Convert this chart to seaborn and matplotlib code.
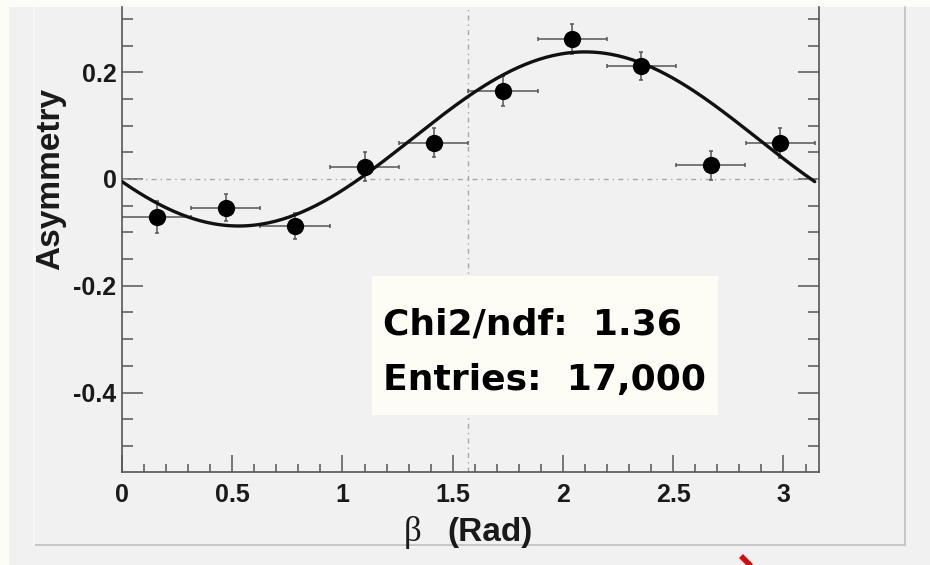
import numpy as np
import matplotlib
matplotlib.use("Agg")
import matplotlib.pyplot as plt
from matplotlib.patches import Rectangle
from matplotlib.lines import Line2D
from matplotlib.ticker import MultipleLocator, FuncFormatter
import seaborn as sns

# Binned asymmetry vs beta (10 bins over 0..pi)
beta = [0.157, 0.471, 0.785, 1.100, 1.414, 1.728, 2.042, 2.356, 2.670, 2.985]
beta_halfwidth = [0.157] * 10
asymmetry = [-0.072, -0.054, -0.088, 0.023, 0.068, 0.165, 0.262, 0.212, 0.026, 0.067]
asym_err = [0.030, 0.025, 0.024, 0.027, 0.027, 0.028, 0.028, 0.026, 0.027, 0.028]

# Fitted modulation: offset + amplitude * cos(2 * (beta - peak))
fit_offset = 0.075
fit_amplitude = 0.163
fit_peak = 2.10
fit_range = (0.0, np.pi)

stats_lines = ["Chi2/ndf:  1.36", "Entries:  17,000"]
x_label_symbol = "β"
x_label_unit = "(Rad)"
y_label = "Asymmetry"

sns.set_style("ticks")
plt.rcParams["font.family"] = ["Liberation Sans", "DejaVu Sans"]
plt.rcParams["axes.unicode_minus"] = False

W, H = 930, 565
fig = plt.figure(figsize=(W / 100, H / 100), dpi=100)
fig.patch.set_facecolor("#fdfdf7")


def fx(px):
    return px / W


def fy(py):
    return 1 - py / H


# canvas panel and its bevelled frame
fig.add_artist(Rectangle((fx(9), 0), 1 - fx(9), fy(7), transform=fig.transFigure,
                         facecolor="#f1f1f1", edgecolor="none", zorder=-2))
fig.add_artist(Line2D([fx(35), fx(905)], [fy(545), fy(545)], transform=fig.transFigure,
                      color="#c6c6c6", lw=1.4, zorder=-1))
fig.add_artist(Line2D([fx(905), fx(905)], [fy(7), fy(545)], transform=fig.transFigure,
                      color="#c6c6c6", lw=1.4, zorder=-1))
fig.add_artist(Line2D([fx(34), fx(34)], [fy(7), fy(545)], transform=fig.transFigure,
                      color="#f9f9f9", lw=1.2, zorder=-1))

ax = fig.add_axes([fx(122), fy(472), fx(819) - fx(122), fy(7) - fy(472)])
ax.set_facecolor("none")

# reference lines
ax.axhline(0, color="#a8a8a8", lw=1.0, ls=(0, (3.5, 3, 1, 3)), zorder=1)
ax.axvline(np.pi / 2, color="#a8a8a8", lw=1.0, ls=(0, (3.5, 3, 1, 3)), zorder=1)

# fit curve
beta_fine = np.linspace(fit_range[0], fit_range[1], 300)
fit_vals = fit_offset + fit_amplitude * np.cos(2 * (beta_fine - fit_peak))
sns.lineplot(x=beta_fine, y=fit_vals, color="#111111", lw=2.4, ax=ax, zorder=3)

# data points with bin widths and statistical errors
ax.errorbar(beta, asymmetry, xerr=beta_halfwidth, yerr=asym_err, fmt="none",
            ecolor="#555555", elinewidth=1.1, capsize=1.6, capthick=1.1, zorder=2)
sns.scatterplot(x=beta, y=asymmetry, s=155, color="black", edgecolor="black",
                linewidth=0, ax=ax, zorder=4)

ax.set_xlim(0, 3.161)
ax.set_ylim(-0.5487, 0.3221)
ax.set_xlabel("")
ax.set_ylabel("")

fmt = FuncFormatter(lambda v, p: "%g" % (round(v, 6) + 0.0))
ax.xaxis.set_major_locator(MultipleLocator(0.5))
ax.xaxis.set_minor_locator(MultipleLocator(0.1))
ax.yaxis.set_major_locator(MultipleLocator(0.2))
ax.yaxis.set_minor_locator(MultipleLocator(0.05))
ax.xaxis.set_major_formatter(fmt)
ax.yaxis.set_major_formatter(fmt)

for s in ["left", "right", "bottom"]:
    ax.spines[s].set_color("#555555")
    ax.spines[s].set_linewidth(1.2)
ax.spines["top"].set_visible(False)

ax.tick_params(axis="y", which="both", direction="in", left=True, right=True,
               color="#555555", width=1.1, labelsize=18, pad=4, labelcolor="#1a1a1a")
ax.tick_params(axis="y", which="major", length=15)
ax.tick_params(axis="y", which="minor", length=8)
ax.tick_params(axis="x", which="both", direction="in", bottom=True, top=False,
               color="#555555", width=1.1, labelsize=18, pad=8, labelcolor="#1a1a1a")
ax.tick_params(axis="x", which="major", length=12)
ax.tick_params(axis="x", which="minor", length=6)
for lab in ax.get_xticklabels() + ax.get_yticklabels():
    lab.set_fontweight("bold")

# axis titles
fig.text(fx(51), fy(179), y_label, rotation=90, ha="center", va="center",
         fontsize=24, fontweight="bold", color="#1a1a1a")
fig.text(fx(412.5), fy(541), x_label_symbol, ha="center", va="baseline",
         fontsize=25, family=["Liberation Serif", "DejaVu Serif"], color="#1a1a1a")
fig.text(fx(447), fy(541), x_label_unit, ha="left", va="baseline",
         fontsize=24, fontweight="bold", color="#1a1a1a")

# fit statistics box
fig.add_artist(Rectangle((fx(371.7), fy(415)), fx(718.3) - fx(371.7), fy(275.7) - fy(415),
                         transform=fig.transFigure, facecolor="#fdfdf6",
                         edgecolor="none", zorder=5))
for i, line in enumerate(stats_lines):
    fig.text(fx(383), fy(335 + 55 * i), line, ha="left", va="baseline",
             fontsize=26, fontweight="bold", family=["DejaVu Sans"],
             color="black", zorder=6)

# red pointer stroke
fig.add_artist(Line2D([fx(741), fx(751)], [fy(556), fy(566)], transform=fig.transFigure,
                      color="#d01010", lw=4, solid_capstyle="butt", zorder=6))

fig.savefig("out.png", dpi=100, facecolor=fig.get_facecolor())
